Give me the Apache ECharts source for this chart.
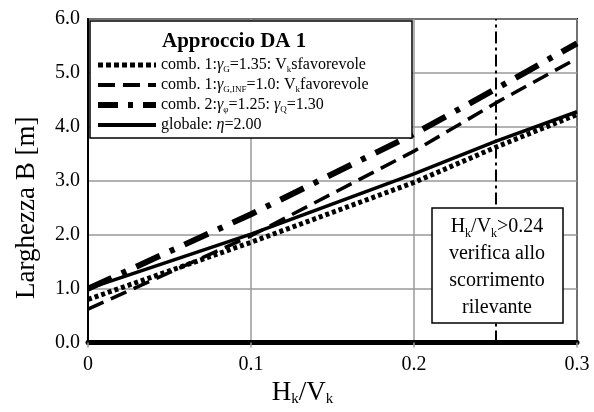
<!DOCTYPE html>
<html>
<head>
<meta charset="utf-8">
<script src="https://cdn.jsdelivr.net/npm/echarts@6/dist/echarts.min.js"></script>
<style>
  html, body { margin: 0; padding: 0; background: #fff; }
  #main { width: 594px; height: 412px; }
</style>
</head>
<body>
<div id="main"></div>
<script>
// dati
const hv = [0, 0.1, 0.2, 0.25, 0.3];
const comb1Sfav = [0.80, 1.86, 2.97, 3.62, 4.23];
const comb1Fav = [0.62, 1.98, 3.55, 4.44, 5.27];
const comb2 = [1.00, 2.38, 3.87, 4.70, 5.55];
const globale = [1.00, 2.01, 3.13, 3.73, 4.28];
const hvLimit = 0.25;

const FONT = '"Liberation Serif", "DejaVu Serif", serif';

function pairs(ys) {
  return hv.map((x, i) => [x, ys[i]]);
}

// testo delle voci di legenda (con pedici)
const legendText = {
  'c1s': '{t|comb. 1:}{g|γ}{s|G}{t|=1.35: V}{s|k}{t|sfavorevole}',
  'c1f': '{t|comb. 1:}{g|γ}{s|G,INF}{t|=1.0: V}{s|k}{t|favorevole}',
  'c2': '{t|comb. 2:}{g|γ}{s|φ}{t|=1.25: }{g|γ}{s|Q}{t|=1.30}',
  'glob': '{t|globale: }{g|η}{t|=2.00}'
};

const chart = echarts.init(document.getElementById('main'), null, { renderer: 'canvas' });

let option = {
  backgroundColor: '#fff',
  animation: false,
  textStyle: { fontFamily: FONT },
  title: {
    text: 'Approccio DA 1',
    left: 157,
    top: 26,
    z: 200,
    textStyle: { fontFamily: FONT, fontSize: 21, fontWeight: 'bold', color: '#000' }
  },
  grid: {
    left: 88, right: 17, top: 19, bottom: 68,
    show: true, borderColor: '#000', borderWidth: 2
  },
  legend: {
    orient: 'vertical',
    left: 90,
    top: 52,
    itemWidth: 58,
    itemHeight: 14,
    itemGap: 3,
    z: 200,
    itemStyle: { opacity: 0 },
    formatter: function (name) { return legendText[name]; },
    textStyle: {
      fontFamily: FONT,
      color: '#000',
      rich: {
        t: { fontFamily: FONT, fontSize: 16, lineHeight: 18, color: '#000' },
        g: { fontFamily: FONT, fontSize: 16, lineHeight: 18, fontStyle: 'italic', color: '#000' },
        s: { fontFamily: FONT, fontSize: 9, lineHeight: 10, verticalAlign: 'bottom', color: '#000' }
      }
    },
    data: [
      { name: 'c1s', lineStyle: { width: 5, type: [5, 3] } },
      { name: 'c1f', lineStyle: { width: 4, type: [17, 8] } },
      { name: 'c2', lineStyle: { width: 6, type: [20, 10, 5, 10] } },
      { name: 'glob', lineStyle: { width: 4 } }
    ]
  },
  graphic: [
    {
      type: 'rect',
      z: 100,
      shape: { x: 90, y: 21, width: 322, height: 117 },
      style: { fill: '#fff', stroke: '#000', lineWidth: 1.5 }
    },
    {
      type: 'rect',
      z: 100,
      shape: { x: 432, y: 208, width: 131, height: 115 },
      style: { fill: '#fff', stroke: '#000', lineWidth: 1.5 }
    },
    {
      type: 'text',
      z: 101,
      x: 497, y: 213,
      style: {
        text: '{a|H}{b|k}{a|/V}{b|k}{a|>0.24}\n{a|verifica allo}\n{a|scorrimento}\n{a|rilevante}',
        align: 'center',
        fill: '#000',
        rich: {
          a: { fontFamily: FONT, fontSize: 20, lineHeight: 27, fill: '#000' },
          b: { fontFamily: FONT, fontSize: 12, lineHeight: 16, verticalAlign: 'bottom', fill: '#000' }
        }
      }
    }
  ],
  xAxis: {
    type: 'value',
    min: 0, max: 0.3, interval: 0.1,
    name: '{a|H}{b|k}{a|/V}{b|k}',
    nameLocation: 'middle',
    nameGap: 36,
    nameTextStyle: {
      padding: [0, 60, 0, 0],
      rich: {
        a: { fontFamily: FONT, fontSize: 27, lineHeight: 28, color: '#000' },
        b: { fontFamily: FONT, fontSize: 15, lineHeight: 16, verticalAlign: 'bottom', color: '#000' }
      }
    },
    axisLine: { show: true, onZero: false, lineStyle: { color: '#000', width: 5 } },
    axisTick: { show: true, length: 5, lineStyle: { color: '#999', width: 1.5 } },
    axisLabel: {
      fontFamily: FONT, fontSize: 20, color: '#000', margin: 12,
      formatter: function (v) { return v === 0 ? '0' : v.toFixed(1); }
    },
    splitLine: { show: true, lineStyle: { color: '#999', width: 1.5 } }
  },
  yAxis: {
    type: 'value',
    min: 0, max: 6, interval: 1,
    name: 'Larghezza B [m]',
    nameLocation: 'middle',
    nameGap: 48,
    nameTextStyle: { fontFamily: FONT, fontSize: 27, color: '#000', padding: [0, 54, 0, 0] },
    axisLine: { show: true, lineStyle: { color: '#000', width: 2 } },
    axisTick: { show: false },
    axisLabel: {
      fontFamily: FONT, fontSize: 20, color: '#000', margin: 8,
      formatter: function (v) { return v.toFixed(1); }
    },
    splitLine: { show: true, lineStyle: { color: '#999', width: 1.5 } }
  },
  series: [
    {
      name: 'c1s', type: 'line', symbol: 'none', z: 3,
      data: pairs(comb1Sfav),
      itemStyle: { color: '#000' },
      lineStyle: { color: '#000', width: 5, type: [4, 3] }
    },
    {
      name: 'c1f', type: 'line', symbol: 'none', z: 3,
      data: pairs(comb1Fav),
      itemStyle: { color: '#000' },
      lineStyle: { color: '#000', width: 3.5, type: [17, 8] }
    },
    {
      name: 'c2', type: 'line', symbol: 'none', z: 3,
      data: pairs(comb2),
      itemStyle: { color: '#000' },
      lineStyle: { color: '#000', width: 6, type: [26, 11, 5, 11] }
    },
    {
      name: 'glob', type: 'line', symbol: 'none', z: 3,
      data: pairs(globale),
      itemStyle: { color: '#000' },
      lineStyle: { color: '#000', width: 3.5 },
      markLine: {
        silent: true,
        symbol: 'none',
        label: { show: false },
        lineStyle: { color: '#000', width: 2, type: [12, 4, 3, 4] },
        data: [{ xAxis: hvLimit }]
      }
    }
  ]
};

chart.setOption(option);
</script>
</body>
</html>
